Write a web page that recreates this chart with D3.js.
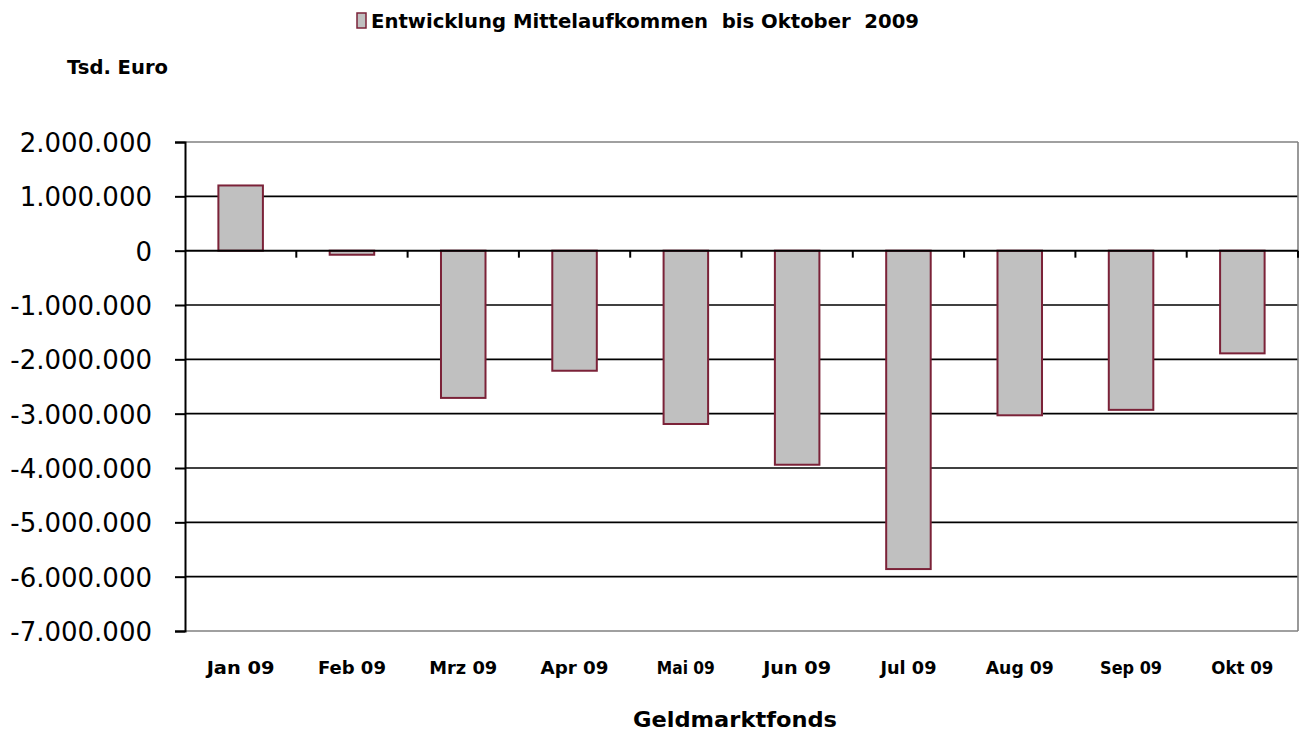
<!DOCTYPE html>
<html><head><meta charset="utf-8">
<script src="https://cdn.jsdelivr.net/npm/d3@7"></script>
<style>
body{margin:0;background:#fff;}
svg text{font-family:"DejaVu Sans",Verdana,sans-serif;fill:#000;}
</style></head>
<body><svg id="c" width="1299" height="742"></svg>
<script>
const categories = ["Jan 09","Feb 09","Mrz 09","Apr 09","Mai 09","Jun 09","Jul 09","Aug 09","Sep 09","Okt 09"];
const values = [1200000,-75000,-2710000,-2210000,-3190000,-3940000,-5860000,-3030000,-2930000,-1890000];
const yTicks = [2000000,1000000,0,-1000000,-2000000,-3000000,-4000000,-5000000,-6000000,-7000000];
const seriesName = "Entwicklung Mittelaufkommen  bis Oktober  2009";
const unitLabel = "Tsd. Euro";
const xTitle = "Geldmarktfonds";

const svg = d3.select("#c");
const L = 185, R = 1298, T = 142, B = 631;
const x = d3.scaleBand().domain(categories).range([L, R]).paddingInner(0.6).paddingOuter(0.3);
const y = d3.scaleLinear().domain([-7000000, 2000000]).range([B, T]);
const loc = d3.formatLocale({decimal:",", thousands:".", grouping:[3], currency:["","€"], minus:"-"});
const fmt = loc.format(",d");

// gridlines
svg.append("g").selectAll("line").data(yTicks.filter(d => d !== 2000000 && d !== -7000000 && d !== 0))
  .join("line").attr("x1", L).attr("x2", R).attr("y1", d => y(d)).attr("y2", d => y(d))
  .attr("stroke", "#000").attr("stroke-width", 1.6);
// plot border top/bottom/right (gray)
svg.append("line").attr("x1", L).attr("x2", R).attr("y1", y(2000000)).attr("y2", y(2000000)).attr("stroke", "#808080").attr("stroke-width", 1.6);
svg.append("line").attr("x1", L).attr("x2", R).attr("y1", y(-7000000)).attr("y2", y(-7000000)).attr("stroke", "#808080").attr("stroke-width", 1.6);
svg.append("line").attr("x1", R).attr("x2", R).attr("y1", T).attr("y2", B).attr("stroke", "#808080").attr("stroke-width", 1.6);

// bars
svg.append("g").selectAll("rect").data(values).join("rect")
  .attr("x", (d, i) => x(categories[i]))
  .attr("width", x.bandwidth())
  .attr("y", d => y(Math.max(0, d)))
  .attr("height", d => Math.abs(y(d) - y(0)))
  .attr("fill", "#c0c0c0").attr("stroke", "#7b2238").attr("stroke-width", 2);

// zero axis with ticks at band boundaries
const zeroAxis = svg.append("g").attr("transform", `translate(0,${y(0)})`);
zeroAxis.append("line").attr("x1", L).attr("x2", R).attr("stroke", "#000").attr("stroke-width", 2);
const bounds = categories.map((c, i) => L + (i + 1) * (R - L) / categories.length);
zeroAxis.selectAll("line.t").data(bounds).join("line").attr("class", "t")
  .attr("x1", d => d).attr("x2", d => d).attr("y1", 0).attr("y2", 7).attr("stroke", "#000").attr("stroke-width", 2);

// y axis
const ya = svg.append("g").attr("transform", `translate(${L},0)`)
  .call(d3.axisLeft(y).tickValues(yTicks).tickFormat(fmt).tickSize(10).tickPadding(23));
ya.select(".domain").attr("stroke", "#000").attr("stroke-width", 2);
ya.selectAll(".tick line").attr("stroke", "#000").attr("stroke-width", 2);
ya.selectAll(".tick text").attr("font-size", 26).attr("font-family", "DejaVu Sans, sans-serif").attr("fill", "#000").attr("dy", "0.36em")
  .attr("textLength", function() { return this.textContent.length > 5 ? null : null; });

// x labels
const labelW = {"Mai 09": 58, "Jul 09": 56, "Okt 09": 62, "Sep 09": 62};
svg.append("g").selectAll("text").data(categories).join("text")
  .attr("x", d => x(d) + x.bandwidth() / 2).attr("y", 674)
  .attr("text-anchor", "middle").attr("font-size", 17.5).attr("font-weight", "bold")
  .attr("textLength", d => labelW[d] || 68).attr("lengthAdjust", "spacingAndGlyphs")
  .text(d => d);

// legend
svg.append("rect").attr("x", 357).attr("y", 13).attr("width", 9).attr("height", 15)
  .attr("fill", "#c0c0c0").attr("stroke", "#7b2238").attr("stroke-width", 1.5);
svg.append("text").attr("x", 371).attr("y", 28).attr("font-size", 19.5).attr("font-weight", "bold")
  .attr("textLength", 548).attr("lengthAdjust", "spacingAndGlyphs").style("white-space", "pre").text(seriesName);

// unit label
svg.append("text").attr("x", 67).attr("y", 74).attr("font-size", 19.5).attr("font-weight", "bold")
  .attr("textLength", 101).attr("lengthAdjust", "spacingAndGlyphs").text(unitLabel);

// x title
svg.append("text").attr("x", 735).attr("y", 727).attr("text-anchor", "middle").attr("font-size", 22).attr("font-weight", "bold")
  .attr("textLength", 204).attr("lengthAdjust", "spacingAndGlyphs").text(xTitle);
</script></body></html>
